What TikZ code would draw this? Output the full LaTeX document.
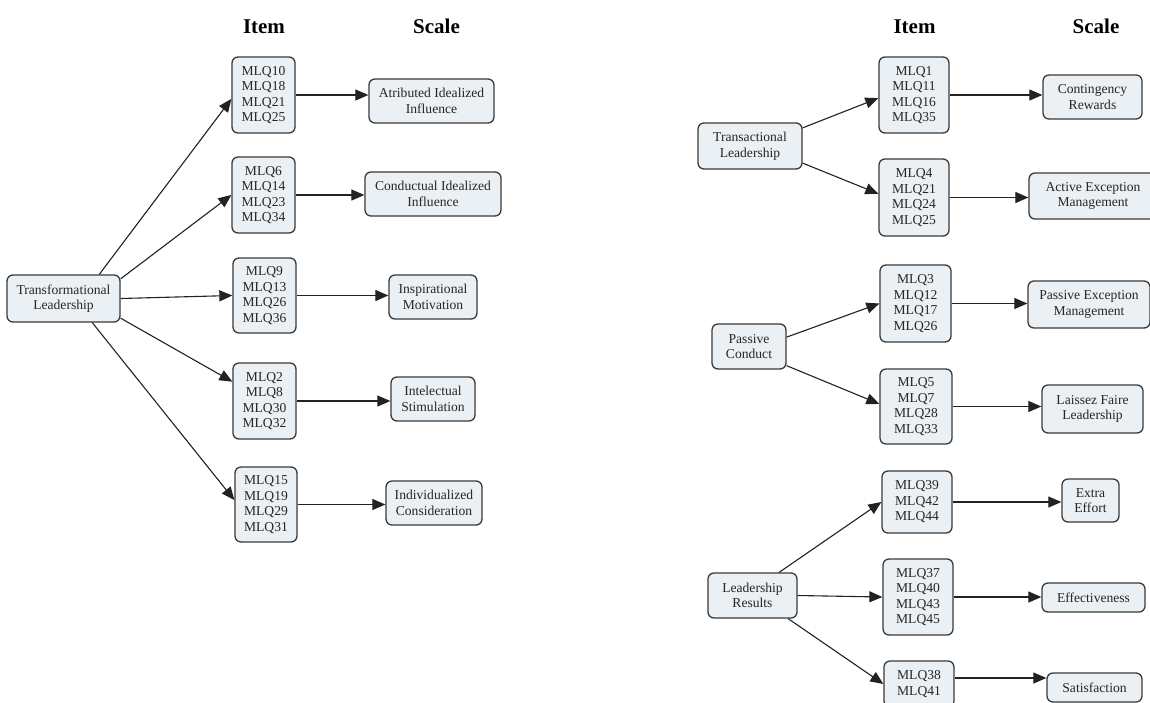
\documentclass[tikz,border=0pt]{standalone}
\usepackage{fontspec}
\setmainfont{Liberation Serif}
\usetikzlibrary{arrows.meta}
\definecolor{boxfill}{HTML}{EAF0F4}
\definecolor{boxline}{HTML}{3A3A3A}
\definecolor{txtcol}{HTML}{262626}
\definecolor{arrcol}{HTML}{222222}
\begin{document}
\begin{tikzpicture}[x=1pt,y=-1pt,
  box/.style={draw=boxline, fill=boxfill, rounded corners=6pt, line width=1.3pt,
    align=center, inner sep=0pt, text=txtcol,
    font=\fontsize{13.6}{15.5}\selectfont},
  hdr/.style={anchor=base, font=\fontsize{21}{24}\selectfont\bfseries, text=black},
  conn/.style={draw=arrcol, line width=1.1pt, -{Triangle[length=13pt,width=11pt]}}]
\useasboundingbox (0,0) rectangle (1150,702);
\fill[white] (0,0) rectangle (1150,702);

% headers
\node[hdr] (hItemL) at (264,33) {Item};
\node[hdr] (hScaleL) at (436.5,33) {Scale};
\node[hdr] (hItemR) at (914.5,33) {Item};
\node[hdr] (hScaleR) at (1096,33) {Scale};

% ---------- left: transformational ----------
\node[box, minimum width=113pt, minimum height=47pt] (TL) at (63.5,298.5) {Transformational\\Leadership};

\node[box, minimum width=63pt, minimum height=76pt] (i1) at (263.5,95) {MLQ10\\MLQ18\\MLQ21\\MLQ25};
\node[box, minimum width=125pt, minimum height=44pt] (s1) at (431.5,101) {Atributed Idealized\\Influence};

\node[box, minimum width=63pt, minimum height=76pt] (i2) at (263.5,195) {MLQ6\\MLQ14\\MLQ23\\MLQ34};
\node[box, minimum width=136pt, minimum height=44pt] (s2) at (433,194) {Conductual Idealized\\Influence};

\node[box, minimum width=63pt, minimum height=75pt] (i3) at (264.5,295.5) {MLQ9\\MLQ13\\MLQ26\\MLQ36};
\node[box, minimum width=88pt, minimum height=44pt] (s3) at (433,297) {Inspirational\\Motivation};

\node[box, minimum width=63pt, minimum height=76pt] (i4) at (264.5,401) {MLQ2\\MLQ8\\MLQ30\\MLQ32};
\node[box, minimum width=84pt, minimum height=44pt] (s4) at (433,399) {Intelectual\\Stimulation};

\node[box, minimum width=62pt, minimum height=75pt] (i5) at (266,504.5) {MLQ15\\MLQ19\\MLQ29\\MLQ31};
\node[box, minimum width=96pt, minimum height=44pt] (s5) at (434,503) {Individualized\\Consideration};

\draw[conn] (TL.34) -- (i1.187);
\draw[conn] (TL.19) -- (i2.west);
\draw[conn] (TL.east) -- (i3.west);
\draw[conn] (TL.341) -- (i4.149);
\draw[conn] (TL.320) -- (i5.172);
\foreach \a/\b in {i1/s1,i2/s2,i3/s3,i4/s4,i5/s5}
  \draw[conn] (\a.east) -- (\a.east -| \b.west);

% ---------- right: transactional ----------
\node[box, minimum width=104pt, minimum height=46pt] (TrL) at (750,146) {Transactional\\Leadership};

\node[box, minimum width=70pt, minimum height=76pt] (r1) at (914,95) {MLQ1\\MLQ11\\MLQ16\\MLQ35};
\node[box, minimum width=99pt, minimum height=44pt] (rs1) at (1092.5,97) {Contingency\\Rewards};

\node[box, minimum width=70pt, minimum height=77pt] (r2) at (914,197.5) {MLQ4\\MLQ21\\MLQ24\\MLQ25};
\node[box, minimum width=128pt, minimum height=46pt] (rs2) at (1093,196) {Active Exception\\Management};

\draw[conn] (TrL.19) -- (r1.185);
\draw[conn] (TrL.342) -- (r2.174);

% ---------- right: passive ----------
\node[box, minimum width=74pt, minimum height=45pt] (PC) at (749,346.5) {Passive\\Conduct};

\node[box, minimum width=71pt, minimum height=77pt] (r3) at (915.5,303.5) {MLQ3\\MLQ12\\MLQ17\\MLQ26};
\node[box, minimum width=122pt, minimum height=47pt] (rs3) at (1089,304.5) {Passive Exception\\Management};

\node[box, minimum width=72pt, minimum height=75pt] (r4) at (916,406.5) {MLQ5\\MLQ7\\MLQ28\\MLQ33};
\node[box, minimum width=101pt, minimum height=48pt] (rs4) at (1092.5,409) {Laissez Faire\\Leadership};

\draw[conn] (PC.14) -- (r3.west);
\draw[conn] (PC.333) -- (r4.176);

% ---------- right: results ----------
\node[box, minimum width=89pt, minimum height=45pt] (LR) at (752.5,595.5) {Leadership\\Results};

\node[box, minimum width=70pt, minimum height=62pt] (r5) at (917,502) {MLQ39\\MLQ42\\MLQ44};
\node[box, minimum width=57pt, minimum height=43pt] (rs5) at (1090.5,500.5) {Extra\\Effort};

\node[box, minimum width=70pt, minimum height=76pt] (r6) at (918,597) {MLQ37\\MLQ40\\MLQ43\\MLQ45};
\node[box, minimum width=103pt, minimum height=29pt] (rs6) at (1093.5,597.5) {Effectiveness};

\node[box, minimum width=70pt, minimum height=46pt] (r7) at (919,684) {MLQ38\\MLQ41};
\node[box, minimum width=95pt, minimum height=29pt] (rs7) at (1094.5,687.5) {Satisfaction};

\draw[conn] (LR.41) -- (r5.west);
\draw[conn] (LR.east) -- (r6.west);
\draw[conn] (LR.327) -- (r7.west);

\foreach \a/\b in {r1/rs1,r2/rs2,r3/rs3,r4/rs4,r5/rs5,r6/rs6}
  \draw[conn] (\a.east) -- (\a.east -| \b.west);
\draw[conn] ([yshift=6pt]r7.east) -- ([yshift=6pt]r7.east -| rs7.west);
\end{tikzpicture}
\end{document}
